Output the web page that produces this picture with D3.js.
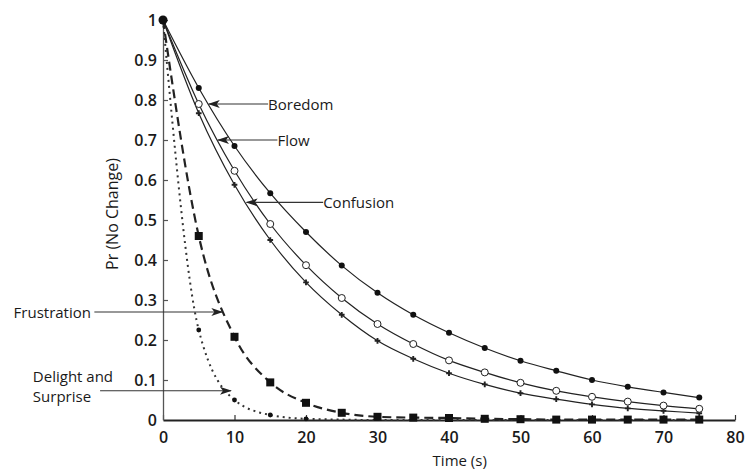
<!DOCTYPE html>
<html lang="en">
<head>
<meta charset="utf-8">
<title>Pr (No Change) over time</title>
<style>
  body { margin: 0; background: #fff; }
  text { font-family: "Open Sans", sans-serif; fill: #1a1a1a; }
  .tick text { font-size: 16px; font-weight: 600; }
  .ann { font-size: 15px; font-weight: 500; }
</style>
</head>
<body>
<div id="chart"></div>
<script src="https://cdn.jsdelivr.net/npm/d3@7/dist/d3.min.js"></script>
<script>
var times = [0, 5, 10, 15, 20, 25, 30, 35, 40, 45, 50, 55, 60, 65, 70, 75];

var boredom    = [1, 0.83, 0.685, 0.567, 0.47, 0.386, 0.318, 0.263, 0.218, 0.18, 0.148, 0.123, 0.10, 0.083, 0.069, 0.056];
var flow       = [1, 0.79, 0.623, 0.49, 0.387, 0.305, 0.24, 0.19, 0.149, 0.119, 0.093, 0.073, 0.058, 0.046, 0.036, 0.028];
var confusion  = [1, 0.767, 0.588, 0.45, 0.344, 0.263, 0.198, 0.153, 0.117, 0.089, 0.067, 0.052, 0.039, 0.029, 0.023, 0.017];
var frustration = [1, 0.46, 0.208, 0.094, 0.043, 0.018, 0.008, 0.006, 0.005, 0.003, 0.002, 0.001, 0.001, 0.001, 0.001, 0.001];
var delight    = [1, 0.225, 0.05, 0.0125, 0.003, 0.001, 0, 0, 0, 0, 0, 0, 0, 0, 0, 0];

var xTicks = [0, 10, 20, 30, 40, 50, 60, 70, 80];
var yTicks = [0, 0.1, 0.2, 0.3, 0.4, 0.5, 0.6, 0.7, 0.8, 0.9, 1];

// annotation labels: text lines, arrow tip x, arrow tail x, y, text x
var labels = [
  { lines: ["Boredom"], tipX: 6.4, tailX: 14.7, y: 0.79, textX: 14.7 },
  { lines: ["Flow"], tipX: 7.7, tailX: 16.0, y: 0.70, textX: 16.0 },
  { lines: ["Confusion"], tipX: 11.7, tailX: 22.4, y: 0.544, textX: 22.4 },
  { lines: ["Frustration"], tipX: 8.3, tailX: -9.6, y: 0.27, textX: -20.9 },
  { lines: ["Delight and", "Surprise"], tipX: 9.5, tailX: -8.8, y: 0.073, textX: -18.2 }
];

var width = 746, height = 473;
var margin = { left: 163, right: 11, top: 20, bottom: 53 };

var svg = d3.select("#chart").append("svg")
    .attr("width", width)
    .attr("height", height);

var x = d3.scaleLinear().domain([0, 80]).range([margin.left, width - margin.right]);
var y = d3.scaleLinear().domain([0, 1]).range([height - margin.bottom, margin.top]);

var defs = svg.append("defs");
defs.append("marker")
    .attr("id", "arrow")
    .attr("viewBox", "0 0 12 8")
    .attr("refX", 11).attr("refY", 4)
    .attr("markerWidth", 12).attr("markerHeight", 8)
    .attr("markerUnits", "userSpaceOnUse")
    .attr("orient", "auto")
  .append("path")
    .attr("d", "M0,0 L12,4 L0,8 L3,4 Z")
    .attr("fill", "#222");

// axes
var xAxis = svg.append("g")
    .attr("transform", "translate(0," + y(0) + ")")
    .call(d3.axisBottom(x).tickValues(xTicks).tickSizeInner(-5).tickSizeOuter(0).tickPadding(12));
xAxis.select(".domain").attr("stroke", "#222").attr("stroke-width", 2);
xAxis.selectAll(".tick line").attr("stroke", "#333").attr("stroke-width", 1.2);

var yAxis = svg.append("g")
    .attr("transform", "translate(" + x(0) + ",0)")
    .call(d3.axisLeft(y).tickValues(yTicks).tickFormat(d3.format("~g")).tickSizeInner(-5).tickSizeOuter(0).tickPadding(6));
yAxis.select(".domain").attr("stroke", "#555").attr("stroke-width", 1.3);
yAxis.selectAll(".tick line").attr("stroke", "#555").attr("stroke-width", 1.2);
yAxis.selectAll(".tick").filter(function(d) { return d === 0; }).select("line").remove();

svg.append("text")
    .attr("transform", "translate(118," + ((y(0) + y(1)) / 2 - 6) + ") rotate(-90)")
    .attr("text-anchor", "middle")
    .style("font-size", "16px")
    .style("font-weight", 500)
    .text("Pr (No Change)");

svg.append("text")
    .attr("x", x(41.5))
    .attr("y", height - 7)
    .attr("text-anchor", "middle")
    .style("font-size", "15px")
    .style("font-weight", 500)
    .text("Time (s)");

var line = d3.line()
    .x(function(d) { return x(d[0]); })
    .y(function(d) { return y(d[1]); })
    .curve(d3.curveMonotoneX);

function pts(vals) {
  return times.map(function(t, i) { return [t, vals[i]]; });
}

var series = [
  { vals: delight, dash: "2,4", width: 2, stroke: "#333", marker: "dot" },
  { vals: frustration, dash: "9,5", width: 2.2, stroke: "#222", marker: "square" },
  { vals: confusion, dash: null, width: 1.2, stroke: "#222", marker: "plus" },
  { vals: flow, dash: null, width: 1.2, stroke: "#222", marker: "open" },
  { vals: boredom, dash: null, width: 1.2, stroke: "#222", marker: "filled" }
];

series.forEach(function(s) {
  svg.append("path")
      .datum(pts(s.vals))
      .attr("d", line)
      .attr("fill", "none")
      .attr("stroke", s.stroke)
      .attr("stroke-width", s.width)
      .attr("stroke-dasharray", s.dash);

  var g = svg.append("g");
  var p = pts(s.vals).slice(1);
  if (s.marker === "filled") {
    g.selectAll("circle").data(p).enter().append("circle")
        .attr("cx", function(d) { return x(d[0]); })
        .attr("cy", function(d) { return y(d[1]); })
        .attr("r", 3).attr("fill", "#111");
  } else if (s.marker === "open") {
    g.selectAll("circle").data(p).enter().append("circle")
        .attr("cx", function(d) { return x(d[0]); })
        .attr("cy", function(d) { return y(d[1]); })
        .attr("r", 3.5).attr("fill", "#fff").attr("stroke", "#222").attr("stroke-width", 1);
  } else if (s.marker === "plus") {
    g.selectAll("path").data(p).enter().append("path")
        .attr("d", d3.symbol(d3.symbolCross, 18))
        .attr("transform", function(d) { return "translate(" + x(d[0]) + "," + y(d[1]) + ")"; })
        .attr("fill", "#222");
  } else if (s.marker === "square") {
    g.selectAll("rect").data(p).enter().append("rect")
        .attr("x", function(d) { return x(d[0]) - 4; })
        .attr("y", function(d) { return y(d[1]) - 4; })
        .attr("width", 8).attr("height", 8).attr("fill", "#111");
  } else {
    g.selectAll("circle").data(p.filter(function(d) { return d[0] <= 20; })).enter().append("circle")
        .attr("cx", function(d) { return x(d[0]); })
        .attr("cy", function(d) { return y(d[1]); })
        .attr("r", 2.4).attr("fill", "#111");
  }
});

// common start point
svg.append("circle")
    .attr("cx", x(times[0])).attr("cy", y(boredom[0]))
    .attr("r", 4.5).attr("fill", "#111");

// annotations
labels.forEach(function(l) {
  svg.append("line")
      .attr("x1", x(l.tailX)).attr("x2", x(l.tipX))
      .attr("y1", y(l.y)).attr("y2", y(l.y))
      .attr("stroke", "#333").attr("stroke-width", 1.1)
      .attr("marker-end", "url(#arrow)");
  var t = svg.append("text")
      .attr("class", "ann")
      .attr("x", x(l.textX))
      .attr("y", y(l.y) + 5.5);
  if (l.lines.length === 1) {
    t.text(l.lines[0]);
  } else {
    t.attr("y", y(l.y) - 8.5);
    l.lines.forEach(function(s, i) {
      t.append("tspan").attr("x", x(l.textX)).attr("dy", i === 0 ? 0 : 20).text(s);
    });
  }
});
</script>
</body>
</html>
